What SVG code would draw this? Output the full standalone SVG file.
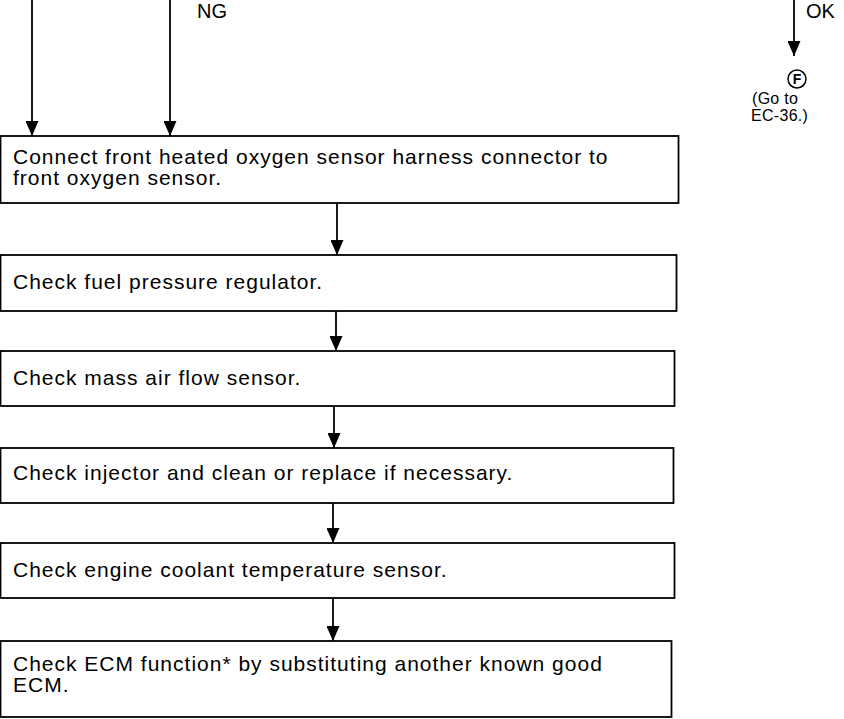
<svg xmlns="http://www.w3.org/2000/svg" width="844" height="719" viewBox="0 0 844 719">
<style>
.box{fill:#fff;stroke:#000;stroke-width:1.8}
.t{font-family:"Liberation Sans",Arial,sans-serif;font-size:21px;letter-spacing:1px;fill:#000}
.l{font-family:"Liberation Sans",Arial,sans-serif;font-size:20px;fill:#000}
.g{font-family:"Liberation Sans",Arial,sans-serif;font-size:16px;letter-spacing:0.3px;fill:#000}
.c{stroke:#000;stroke-width:1.8;fill:none}
</style>
<defs>
<marker id="ah" markerWidth="15" markerHeight="13" refX="15" refY="6.5" orient="auto" markerUnits="userSpaceOnUse" viewBox="0 0 15 13">
<path d="M0,0 L15,6.5 L0,13 Z" fill="#000"/>
</marker>
</defs>
<rect width="844" height="719" fill="#fff"/>
<g id="connectors">
<line class="c" x1="32" y1="0" x2="32" y2="136" marker-end="url(#ah)"/>
<line class="c" x1="170" y1="0" x2="170" y2="136" marker-end="url(#ah)"/>
<line class="c" x1="794" y1="0" x2="794" y2="56" marker-end="url(#ah)"/>
<line class="c" x1="337" y1="203" x2="337" y2="255" marker-end="url(#ah)"/>
<line class="c" x1="336" y1="311" x2="336" y2="351" marker-end="url(#ah)"/>
<line class="c" x1="334" y1="406" x2="334" y2="448" marker-end="url(#ah)"/>
<line class="c" x1="333" y1="503" x2="333" y2="543" marker-end="url(#ah)"/>
<line class="c" x1="333" y1="598" x2="333" y2="641" marker-end="url(#ah)"/>
<text class="l" x="197" y="18">NG</text>
<text class="l" x="806" y="18">OK</text>
</g>
<g id="nodeF">
<circle cx="797" cy="79" r="9" fill="none" stroke="#000" stroke-width="1.5"/>
<text x="797" y="84" text-anchor="middle" style="font-family:'Liberation Sans',Arial,sans-serif;font-size:14px;font-weight:bold">F</text>
<text class="g" x="752" y="104">(Go to</text>
<text class="g" x="751" y="121">EC-36.)</text>
</g>
<g id="n1">
<rect class="box" x="0.5" y="136" width="678" height="67"/>
<text class="t" x="13" y="164">Connect front heated oxygen sensor harness connector to</text>
<text class="t" x="13" y="185">front oxygen sensor.</text>
</g>
<g id="n2">
<rect class="box" x="0.5" y="255" width="676" height="56"/>
<text class="t" x="13" y="289">Check fuel pressure regulator.</text>
</g>
<g id="n3">
<rect class="box" x="0.5" y="351" width="674" height="55"/>
<text class="t" x="13" y="385">Check mass air flow sensor.</text>
</g>
<g id="n4">
<rect class="box" x="0.5" y="448" width="673" height="55"/>
<text class="t" x="13" y="480">Check injector and clean or replace if necessary.</text>
</g>
<g id="n5">
<rect class="box" x="0.5" y="543" width="674" height="55"/>
<text class="t" x="13" y="577">Check engine coolant temperature sensor.</text>
</g>
<g id="n6">
<rect class="box" x="0.5" y="641" width="671" height="76"/>
<text class="t" x="13" y="671">Check ECM function* by substituting another known good</text>
<text class="t" x="13" y="692">ECM.</text>
</g>
</svg>
